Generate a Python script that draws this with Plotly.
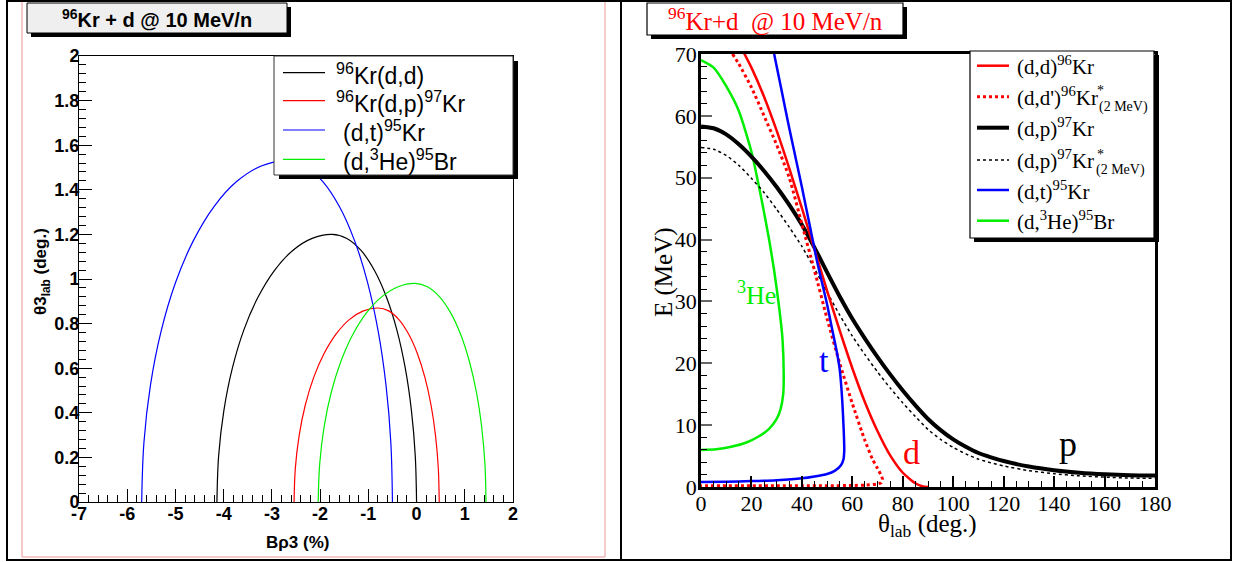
import plotly.graph_objects as go

W, H = 1235, 562

# ---------------- left panel: theta3_lab vs B-rho3 ----------------
dd_brho = [-4.14, -4.104, -3.996, -3.82, -3.581, -3.286, -2.945, -2.567, -2.165, -1.75,
           -1.446, -1.151, -0.875, -0.625, -0.409, -0.234, -0.106, -0.027, 0.0]
dd_theta = [0.0, 0.208, 0.410, 0.600, 0.772, 0.919, 1.039, 1.128, 1.182, 1.2,
            1.182, 1.128, 1.039, 0.919, 0.772, 0.600, 0.410, 0.208, 0.0]

dp_brho = [-2.54, -2.514, -2.435, -2.307, -2.133, -1.918, -1.67, -1.395, -1.102, -0.8,
           -0.579, -0.366, -0.165, 0.016, 0.173, 0.3, 0.393, 0.451, 0.47]
dp_theta = [0.0, 0.151, 0.298, 0.435, 0.559, 0.666, 0.753, 0.818, 0.857, 0.87,
            0.857, 0.818, 0.753, 0.666, 0.559, 0.435, 0.298, 0.151, 0.0]

dt_brho = [-5.7, -5.654, -5.519, -5.298, -4.998, -4.628, -4.2, -3.726, -3.221, -2.7,
           -2.318, -1.948, -1.6, -1.286, -1.015, -0.795, -0.633, -0.533, -0.5]
dt_theta = [0.0, 0.266, 0.523, 0.765, 0.984, 1.172, 1.325, 1.438, 1.507, 1.53,
            1.507, 1.438, 1.325, 1.172, 0.984, 0.765, 0.523, 0.266, 0.0]

dhe_brho = [-2.04, -2.009, -1.919, -1.771, -1.57, -1.322, -1.035, -0.717, -0.379, -0.03,
            0.225, 0.473, 0.705, 0.915, 1.096, 1.243, 1.351, 1.418, 1.44]
dhe_theta = [0.0, 0.170, 0.335, 0.490, 0.630, 0.751, 0.849, 0.921, 0.965, 0.98,
             0.965, 0.921, 0.849, 0.751, 0.630, 0.490, 0.335, 0.170, 0.0]

brho_ticks = [-7, -6, -5, -4, -3, -2, -1, 0, 1, 2]
brho_labels = ["-7", "-6", "-5", "-4", "-3", "-2", "-1", "0", "1", "2"]

# ---------------- right panel: E vs theta_lab ----------------
d_el_theta = [17.0, 20, 25, 30, 35, 40, 45, 50, 55, 60, 65, 70, 75, 80, 85, 88, 90]
d_el_E = [70.2, 67.8, 63.1, 57.6, 51.5, 45.1, 38.4, 31.7, 25.3, 19.2, 13.7, 9.0, 5.1, 2.3, 0.6, 0.09, 0.0]

d_inel_theta = [12.5, 15, 20, 25, 30, 35, 40, 45, 50, 55, 60, 65, 68, 70, 71.5, 72,
                71.5, 70, 65, 60, 50, 40, 30, 20, 10, 0]
d_inel_E = [70, 68.4, 64.6, 60, 55.3, 50, 42.5, 35, 27.2, 20, 13.5, 7.5, 4.5, 3.0, 1.8, 1.2,
            0.7, 0.5, 0.3, 0.25, 0.2, 0.2, 0.2, 0.2, 0.2, 0.2]

p_theta = [0, 5, 10, 15, 20, 25, 30, 35, 40, 45, 50, 55, 60, 65, 70, 75, 80, 85, 90, 95, 100,
           105, 110, 115, 120, 130, 140, 150, 160, 170, 180]
p_E = [58.3, 58.0, 57.0, 55.4, 53.4, 51.1, 48.5, 45.6, 42.4, 38.7, 34.7, 30.8, 27.2, 24.0, 21.0,
       18.2, 15.6, 13.2, 11.0, 9.2, 7.7, 6.5, 5.5, 4.8, 4.2, 3.3, 2.7, 2.3, 2.05, 1.9, 1.85]

p_exc_theta = [0, 5, 10, 15, 20, 25, 30, 35, 40, 45, 50, 55, 60, 65, 70, 75, 80, 85, 90, 95, 100,
               105, 110, 115, 120, 130, 140, 150, 160, 170, 180]
p_exc_E = [54.9, 54.6, 53.6, 52.0, 49.9, 47.6, 44.9, 42.0, 38.9, 35.3, 31.5, 27.8, 24.4, 21.4,
           18.6, 16.0, 13.6, 11.4, 9.3, 7.7, 6.4, 5.35, 4.5, 3.9, 3.4, 2.65, 2.15, 1.8, 1.6, 1.45, 1.4]

t_theta = [29, 32, 35, 38, 40, 42, 44, 46, 48, 50, 52, 54, 55, 56, 56.6, 56.8, 56.5, 55.5,
           53, 50, 45, 40, 30, 20, 10, 0]
t_E = [70, 64, 58, 52.3, 48.5, 44.5, 40.5, 36.5, 33, 29.5, 25.5, 21.5, 19, 14, 9, 6, 4.5, 3.5,
       2.6, 2.1, 1.7, 1.4, 1.1, 0.95, 0.85, 0.8]

he_theta = [0, 5, 10, 15, 20, 24, 27, 29, 31, 32.3, 32.8, 32.6, 31.5, 30, 27, 23, 18, 12, 6, 0]
he_E = [69, 67.8, 64.8, 60.8, 54.2, 46.5, 40, 35, 29, 24, 18, 15, 12.5, 11, 9.4, 8.2, 7.2, 6.5, 6.1, 6.0]


def X(px):
    return px / W


def Y(py):
    return 1 - py / H


SANS = "Liberation Sans, Arial, sans-serif"
SERIF = "Liberation Serif, Times New Roman, serif"

fig = go.Figure()

left_curves = [
    (dd_brho, dd_theta, "#000000"),
    (dp_brho, dp_theta, "#ff0000"),
    (dt_brho, dt_theta, "#0000ff"),
    (dhe_brho, dhe_theta, "#00ee00"),
]
for xs, ys, col in left_curves:
    fig.add_trace(go.Scatter(x=xs, y=ys, mode="lines", line=dict(color=col, width=1.2, shape="spline"),
                             xaxis="x", yaxis="y", showlegend=False, hoverinfo="skip"))

right_curves = [
    (he_theta, he_E, "#00ee00", 2.5, "solid"),
    (p_exc_theta, p_exc_E, "#000000", 1.5, "3px,3px"),
    (p_theta, p_E, "#000000", 4, "solid"),
    (d_inel_theta, d_inel_E, "#ff0000", 3, "dot"),
    (d_el_theta, d_el_E, "#ff0000", 2.5, "solid"),
    (t_theta, t_E, "#0000ff", 2.5, "solid"),
]
for xs, ys, col, w, dash in right_curves:
    fig.add_trace(go.Scatter(x=xs, y=ys, mode="lines",
                             line=dict(color=col, width=w, dash=dash, shape="spline", smoothing=0.6),
                             xaxis="x2", yaxis="y2", showlegend=False, hoverinfo="skip"))

shapes = []
annots = []


def rect(x0, y0, x1, y1, line="black", lw=1, fill=None, layer="above"):
    shapes.append(dict(type="rect", xref="paper", yref="paper", x0=X(x0), x1=X(x1), y0=Y(y0), y1=Y(y1),
                       line=dict(color=line, width=lw), fillcolor=fill, layer=layer))


def hline(x0, x1, y, color, lw=1, dash="solid"):
    shapes.append(dict(type="line", xref="paper", yref="paper", x0=X(x0), x1=X(x1), y0=Y(y), y1=Y(y),
                       line=dict(color=color, width=lw, dash=dash), layer="above"))


def vline(x, y0, y1, color, lw=1):
    shapes.append(dict(type="line", xref="paper", yref="paper", x0=X(x), x1=X(x), y0=Y(y0), y1=Y(y1),
                       line=dict(color=color, width=lw), layer="above"))


def text(x, y, s, size, color="black", family=SANS, xa="left", ya="middle", angle=0, weight="normal"):
    annots.append(dict(xref="paper", yref="paper", x=X(x), y=Y(y), text=s, showarrow=False,
                       xanchor=xa, yanchor=ya, textangle=angle,
                       font=dict(size=size, color=color, family=family, weight=weight)))


# page frame
vline(22, 0, 557, "#f2b8b8", 1.5)
vline(605, 0, 557, "#f2b8b8", 1.5)
hline(22, 605, 557, "#f2b8b8", 1.5)
rect(7, 1, 1231, 560, "black", 2)
vline(621, 1, 560, "black", 2)

# left title box
rect(31, 7, 291, 37, "black", 0, "black")
rect(27, 3, 287, 33, "black", 1, "#efefef")
text(157, 18, "<b><sup>96</sup>Kr + d @ 10 MeV/n</b>", 20, xa="center")

# right title box
rect(651, 7, 907, 39, "black", 0, "black")
rect(647, 3, 903, 35, "black", 1.2, "white")
text(775, 19, "<sup>96</sup>Kr+d\u00a0\u00a0@ 10 MeV/n", 25, color="#ff0000", family=SERIF, xa="center")

# left legend
rect(279, 61, 518, 179, "black", 0, "black")
rect(274, 56, 513, 175, "#333333", 1, "white")
left_leg = [
    ("#000000", 72.7, 334, "<sup>96</sup>Kr(d,d)"),
    ("#ff0000", 100.7, 334, "<sup>96</sup>Kr(d,p)<sup>97</sup>Kr"),
    ("#0000ff", 130, 341, "(d,t)<sup>95</sup>Kr"),
    ("#00ee00", 159.3, 341, "(d,<sup>3</sup>He)<sup>95</sup>Br"),
]
for col, yy, tx, label in left_leg:
    hline(283, 325, yy, col, 1.2)
    text(tx, yy + 1, label, 23)

# right legend
rect(974, 55, 1159, 242, "black", 0, "black")
rect(970, 51, 1154, 238, "black", 1.2, "white")
right_leg = [
    ("#ff0000", 65.7, "solid", 2.5, "(d,d)<sup>96</sup>Kr"),
    ("#ff0000", 96.7, "dot", 3, "(d,d')<sup>96</sup>Kr"),
    ("#000000", 127.7, "solid", 4, "(d,p)<sup>97</sup>Kr"),
    ("#000000", 160, "3px,3px", 1.5, "(d,p)<sup>97</sup>Kr"),
    ("#0000ff", 190, "solid", 2.5, "(d,t)<sup>95</sup>Kr"),
    ("#00ee00", 220.7, "solid", 2.5, "(d,<sup>3</sup>He)<sup>95</sup>Br"),
]
for col, yy, dash, w, label in right_leg:
    hline(977, 1009, yy, col, w, dash)
    text(1015, yy, label, 21, family=SERIF)
text(1100, 90, "*", 14, family=SERIF, xa="center")
text(1123, 107, "(2 MeV)", 14, family=SERIF, xa="center")
text(1100, 155, "*", 14, family=SERIF, xa="center")
text(1120, 170, "(2 MeV)", 14, family=SERIF, xa="center")

# axis titles
text(297, 542, "<b>B\u03c13 (%)</b>", 17, xa="center")
text(42, 272, "<b>\u03b83<sub>lab</sub> (deg.)</b>", 17, xa="center", angle=-90)
text(927, 525, "\u03b8<sub>lab</sub> (deg.)", 25, family=SERIF, xa="center")
text(664, 272, "E (MeV)", 25, family=SERIF, xa="center", angle=-90)

# curve labels on the right panel
annots.append(dict(xref="x2", yref="y2", x=22.2, y=31.3, text="<sup>3</sup>He", showarrow=False,
                   font=dict(size=26, color="#00ee00", family=SERIF)))
annots.append(dict(xref="x2", yref="y2", x=48.8, y=20.5, text="t", showarrow=False,
                   font=dict(size=34, color="#0000ff", family=SERIF)))
annots.append(dict(xref="x2", yref="y2", x=83.3, y=5.5, text="d", showarrow=False,
                   font=dict(size=34, color="#ff0000", family=SERIF)))
annots.append(dict(xref="x2", yref="y2", x=145.5, y=7.0, text="p", showarrow=False,
                   font=dict(size=36, color="#000000", family=SERIF)))

left_tick_font = dict(size=18, family=SANS, color="black", weight="bold")
right_tick_font = dict(size=22, family=SERIF, color="black")

fig.update_layout(
    template="none",
    width=W, height=H, autosize=False,
    margin=dict(l=0, r=0, t=0, b=0, pad=0, autoexpand=False),
    paper_bgcolor="white", plot_bgcolor="white",
    showlegend=False,
    shapes=shapes, annotations=annots,
    xaxis=dict(domain=[X(79), X(513)], range=[-7, 2], tickmode="array", tickvals=brho_ticks,
               ticktext=brho_labels, ticks="inside", ticklen=13, automargin=False, ticklabelstandoff=-5,
               tickcolor="black", tickwidth=1, showline=True, linecolor="black", linewidth=1, mirror=True,
               showgrid=False, zeroline=False, tickfont=left_tick_font,
               minor=dict(dtick=0.2, tick0=0, ticks="inside", ticklen=7, tickcolor="black", tickwidth=1,
                          showgrid=False),
               anchor="y"),
    yaxis=dict(domain=[Y(502), Y(56)], range=[0, 2], dtick=0.2, tick0=0, ticks="inside", ticklen=13,
               automargin=False, ticklabelstandoff=-5,
               tickcolor="black", tickwidth=1, showline=True, linecolor="black", linewidth=1, mirror=True,
               showgrid=False, zeroline=False, tickfont=left_tick_font,
               minor=dict(dtick=0.04, ticks="inside", ticklen=7, tickcolor="black", tickwidth=1, showgrid=False),
               anchor="x"),
    xaxis2=dict(domain=[X(701), X(1155)], range=[0, 180], dtick=20, tick0=0, ticks="inside", ticklen=11,
                automargin=False, ticklabelstandoff=-5,
                tickcolor="black", tickwidth=1.5, showline=True, linecolor="black", linewidth=2.5, mirror=True,
                showgrid=False, zeroline=False, tickfont=right_tick_font,
                minor=dict(dtick=5, ticks="inside", ticklen=6, tickcolor="black", tickwidth=1, showgrid=False),
                anchor="y2"),
    yaxis2=dict(domain=[Y(487), Y(54)], range=[0, 70], dtick=10, tick0=0, ticks="inside", ticklen=11,
                automargin=False, ticklabelstandoff=-3,
                tickcolor="#666666", tickwidth=2, showline=True, linecolor="black", linewidth=2.5, mirror=True,
                showgrid=False, zeroline=False, tickfont=right_tick_font,
                minor=dict(dtick=2, ticks="inside", ticklen=6, tickcolor="black", tickwidth=1, showgrid=False),
                anchor="x2"),
)

page_css = ("document.body.style.margin='0';document.body.style.padding='0';"
            "document.documentElement.style.overflow='hidden';document.body.style.overflow='hidden';")
fig.write_html("out.html", post_script=page_css)
